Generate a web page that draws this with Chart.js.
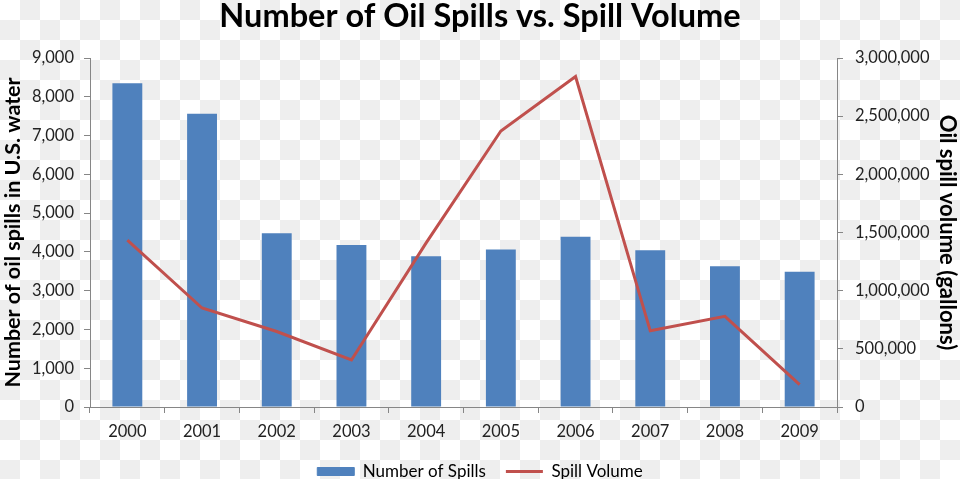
<!DOCTYPE html>
<html>
<head>
<meta charset="utf-8">
<script src="https://cdn.jsdelivr.net/npm/chart.js@4/dist/chart.umd.min.js"></script>
<style>
  html, body { margin: 0; padding: 0; }
  body {
    width: 960px; height: 479px;
    background-color: #ffffff;
    background-image: conic-gradient(#eeeeee 25%, #ffffff 0 50%, #eeeeee 0 75%, #ffffff 0);
    background-size: 40px 40px;
  }
  #wrap { position: relative; width: 960px; height: 479px; }
</style>
</head>
<body>
<div id="wrap"><canvas id="myChart"></canvas></div>
<script>
var years = ['2000', '2001', '2002', '2003', '2004', '2005', '2006', '2007', '2008', '2009'];
var spillCount = [8350, 7560, 4480, 4180, 3890, 4060, 4390, 4040, 3630, 3490];
var spillVolume = [1434000, 851000, 649000, 404000, 1411000, 2373000, 2841000, 655000, 779000, 193000];

var FONT = 'Lato, "Open Sans", sans-serif';
var axisGray = '#868686';

function createChart(ctx) {
    'use strict'

    var myChart = new Chart(ctx, {
        data: {
            labels: years,
            datasets: [{
                type: 'line',
                label: 'Spill Volume',
                data: spillVolume,
                yAxisID: 'y1',
                borderColor: '#C0504D',
                backgroundColor: '#C0504D',
                borderWidth: 3,
                pointRadius: 0,
                lineTension: 0,
                order: 0
            }, {
                type: 'bar',
                label: 'Number of Spills',
                data: spillCount,
                yAxisID: 'y',
                backgroundColor: '#4F81BD',
                barPercentage: 0.4,
                categoryPercentage: 1.0,
                order: 1
            }]
        },
        options: {
            responsive: false,
            animation: false,
            layout: { padding: { left: 0, right: 0, top: 0, bottom: -11 } },
            plugins: {
                tooltip: { enabled: false },
                title: {
                    display: true,
                    text: 'Number of Oil Spills vs. Spill Volume',
                    color: '#000',
                    font: { family: FONT, size: 32.5, weight: 'bold' },
                    padding: { top: -3, bottom: 22 }
                },
                legend: {
                    position: 'bottom',
                    reverse: true,
                    labels: {
                        color: '#222',
                        font: { family: FONT, size: 17 },
                        usePointStyle: true,
                        pointStyleWidth: 37,
                        boxHeight: 8,
                        padding: 20,
                        generateLabels: function (chart) {
                            return chart.data.datasets.map(function (ds, i) {
                                var isLine = ds.type === 'line';
                                return {
                                    text: ds.label,
                                    fillStyle: isLine ? ds.borderColor : ds.backgroundColor,
                                    strokeStyle: isLine ? ds.borderColor : ds.backgroundColor,
                                    lineWidth: isLine ? 3 : 1,
                                    pointStyle: isLine ? 'line' : 'rect',
                                    hidden: false,
                                    datasetIndex: i
                                };
                            });
                        }
                    }
                }
            },
            scales: {
                x: {
                    offset: true,
                    grid: { display: true, offset: true, drawOnChartArea: false, color: axisGray, tickLength: 6 },
                    border: { color: axisGray },
                    ticks: { color: '#222', font: { family: FONT, size: 16.5 }, padding: 9 },
                    afterFit: function (s) { s.height = 36; }
                },
                y: {
                    position: 'left',
                    min: 0, max: 9000,
                    ticks: {
                        stepSize: 1000, color: '#222', font: { family: FONT, size: 16.5 }, padding: 10,
                        callback: function (v) { return v.toLocaleString('en-US'); }
                    },
                    grid: { drawOnChartArea: false, color: axisGray, tickLength: 6 },
                    border: { color: axisGray },
                    title: {
                        display: true, text: 'Number of oil spills in U.S. water', color: '#000',
                        font: { family: FONT, size: 21.5, weight: 'bold' }, padding: { top: 0, bottom: 0 }
                    },
                    afterFit: function (s) { s.width = 90; }
                },
                y1: {
                    position: 'right',
                    min: 0, max: 3000000,
                    ticks: {
                        stepSize: 500000, color: '#222', font: { family: FONT, size: 16.5 }, padding: 12,
                        callback: function (v) { return v.toLocaleString('en-US'); }
                    },
                    grid: { drawOnChartArea: false, color: axisGray, tickLength: 6 },
                    border: { color: axisGray },
                    title: {
                        display: true, text: 'Oil spill volume (gallons)', color: '#000',
                        font: { family: FONT, size: 22, weight: 'bold' }, padding: { top: 0, bottom: 0 }
                    },
                    afterFit: function (s) { s.width = 123; }
                }
            }
        }
    });
    return myChart;
}

var cv = document.getElementById('myChart');
cv.width = 960;
cv.height = 479;
createChart(cv);
</script>
</body>
</html>
